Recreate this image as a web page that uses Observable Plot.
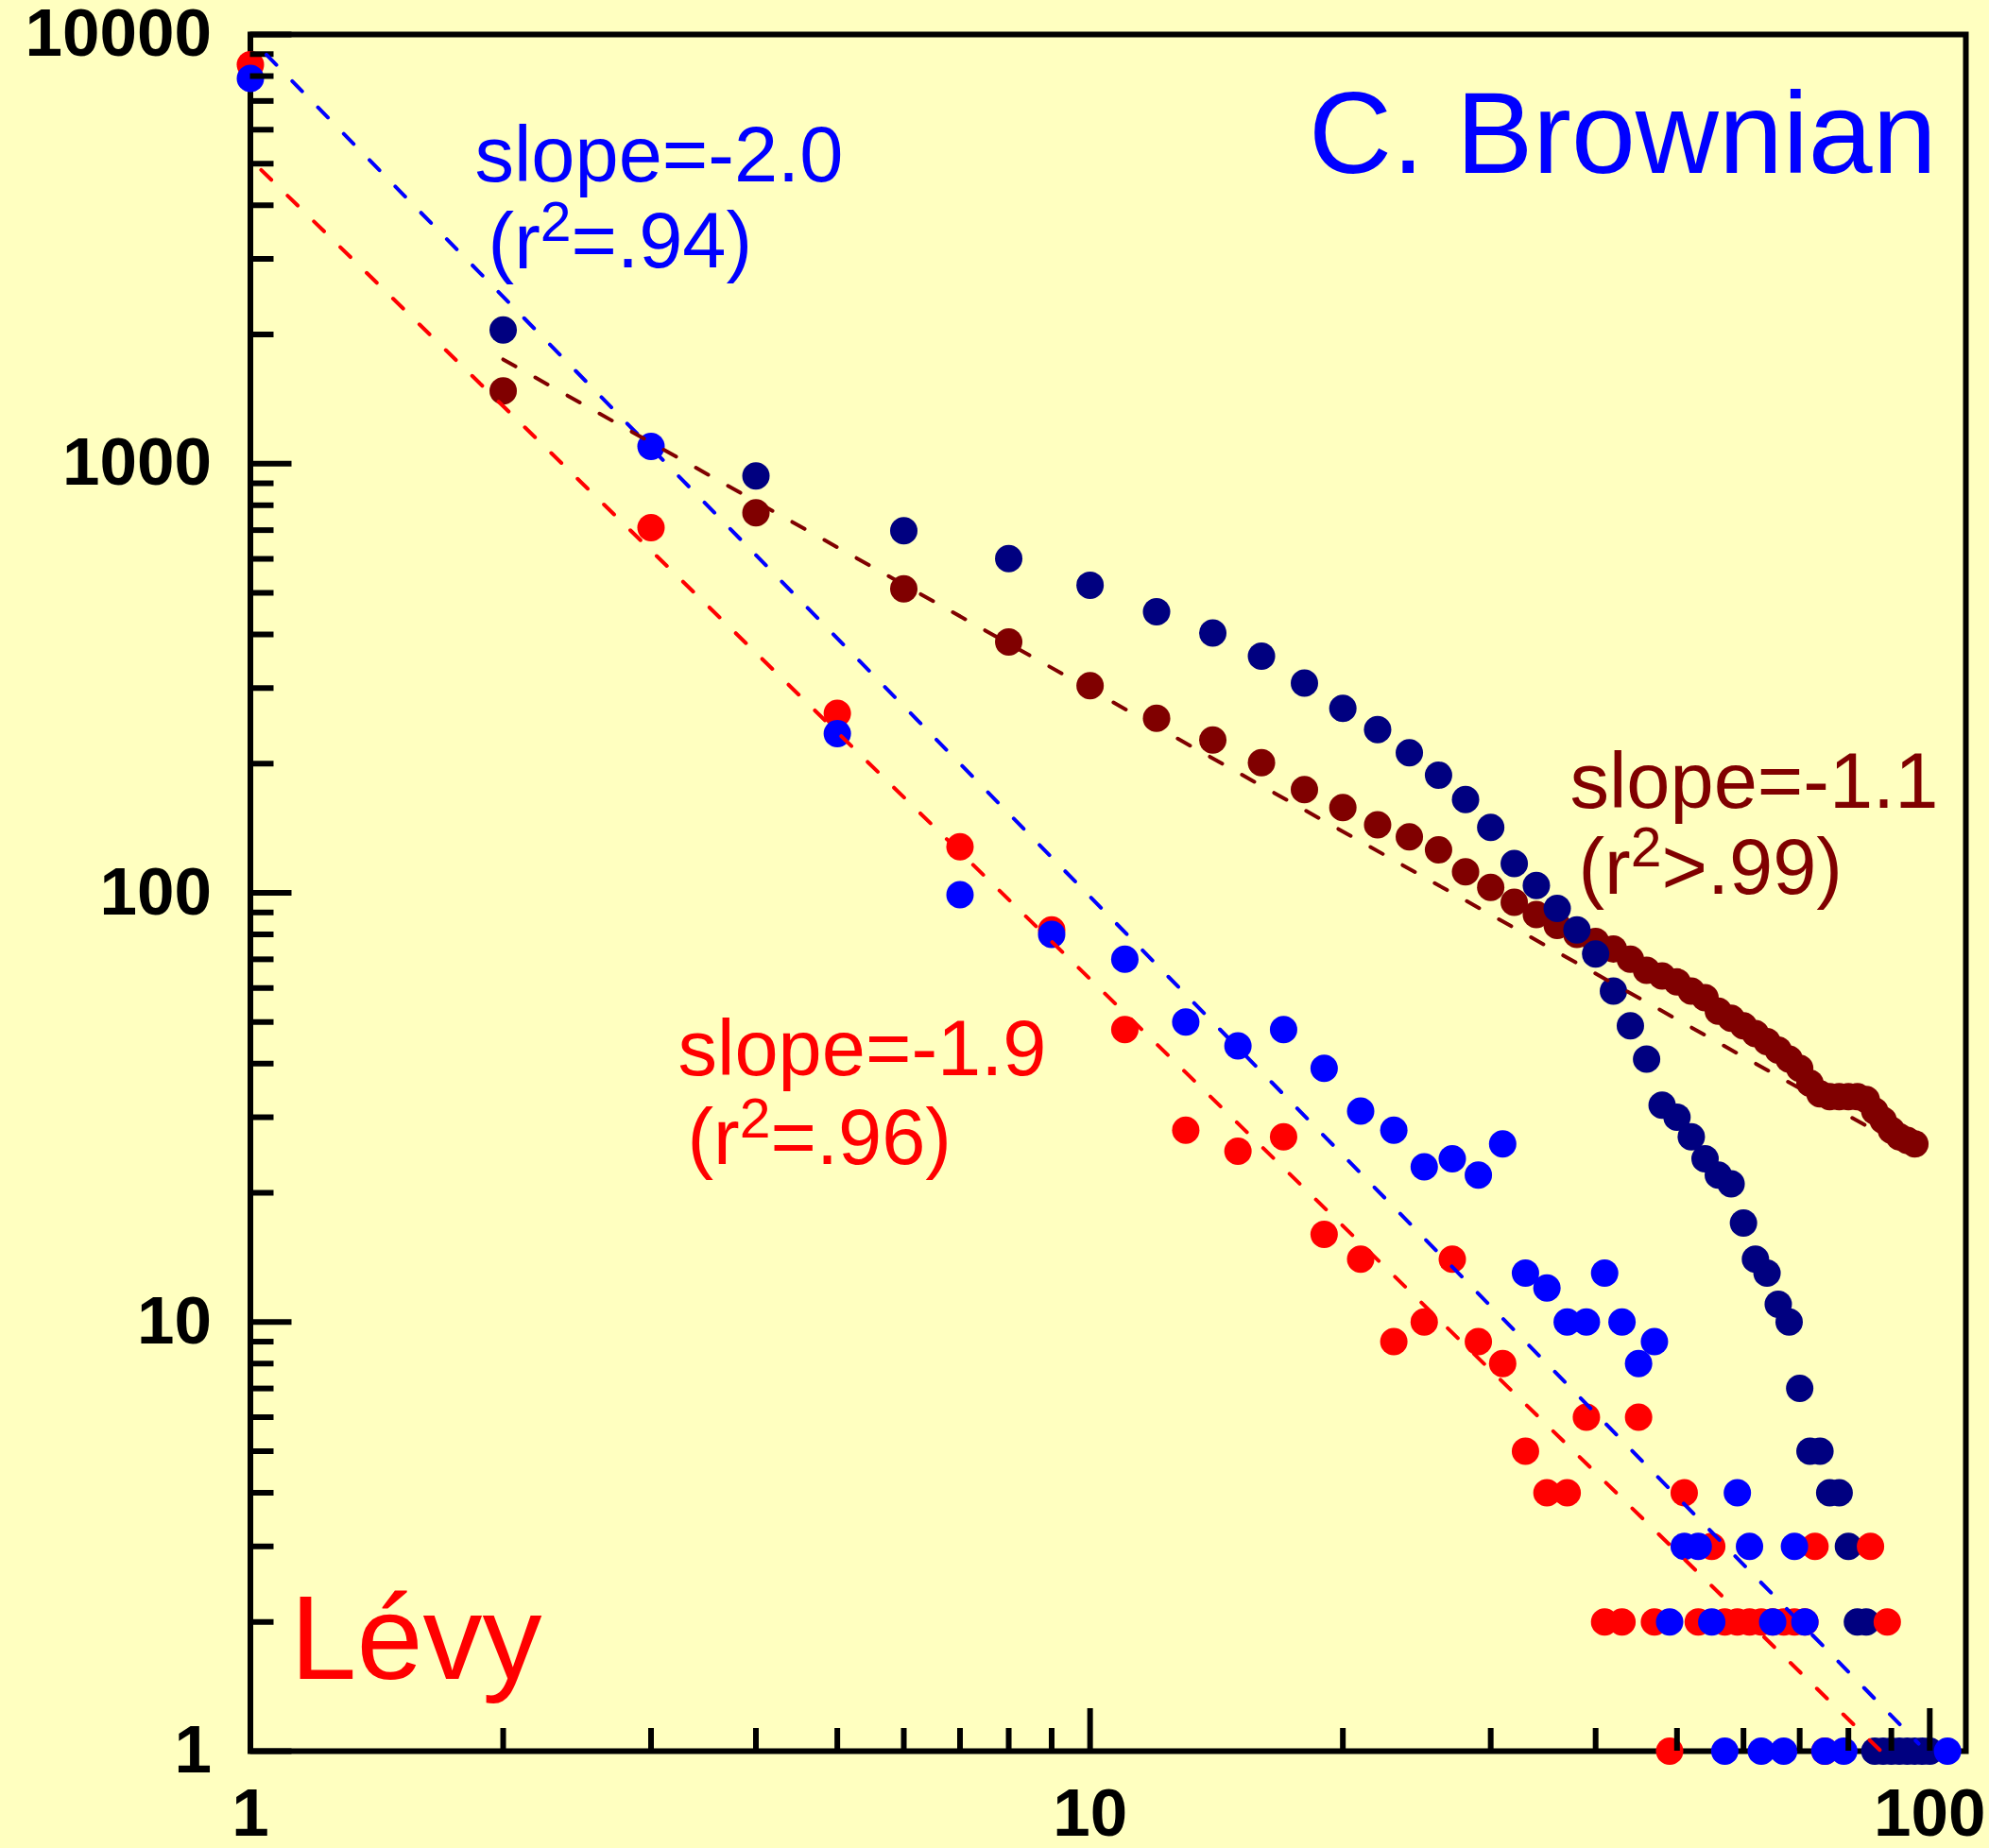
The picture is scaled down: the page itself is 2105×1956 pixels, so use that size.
<!DOCTYPE html>
<html>
<head>
<meta charset="utf-8">
<script src="https://cdn.jsdelivr.net/npm/d3@7"></script>
<script src="https://cdn.jsdelivr.net/npm/@observablehq/plot@0.6"></script>
<style>
  html, body { margin: 0; padding: 0; background: #FFFFC0; }
  svg { display: block; }
</style>
</head>
<body>
<script>
// ---------- data ----------
// Lévy (red)
const levyX = [1,3,5,7,9,11,13,15,17,19,21,23,25,27,29,31,33,35,37,39,41,43,45,47,49,51,53,55,57,59,61,63,65,67,69,71,73,75,85,89];
const levyY = [8500,709,262,128,82,48,28,25,27,16,14,9,10,14,9,8,5,4,4,6,2,2,6,2,1,4,2,3,2,2,2,2,2,2,2,2,3,1,3,2];

// C. Brownian (blue)
const brownX = [1,3,5,7,9,11,13,15,17,19,21,23,25,27,29,31,33,35,37,39,41,43,45,47,49,51,53,55,57,59,61,63,65,67,69,71,75,79,105];
const brownY = [7900,1097,235,99,80,70,50,44,48,39,31,28,23,24,22,26,13,12,10,10,13,10,8,9,2,3,3,2,1,4,3,1,2,1,3,2,1,1,1];

// dark blue series
const navyX = [2,4,6,8,10,12,14,16,18,20,22,24,26,28,30,32,34,36,38,40,42,44,46,48,50,52,54,56,58,60,62,64,66,68,70,72,74,76,78,80,82,84,86,88,90,92,94,96,98,100];
const navyY = [2048,936,698,601,521,452,403,356,308,269,240,212,188,165,142,117,104,92,82,72,59,49,41,32,30,27,24,22,21,17,14,13,11,10,7,5,5,4,4,3,2,2,1,1,1,1,1,1,1,1];

// dark red series
const maroonX = [2,4,6,8,10,12,14,16,18,20,22,24,26,28,30,32,34,36,38,40,42,44,46,48,50,52,54,56,58,60,62,64,66,68,70,72,74,76,78,80,82,84,86,88,90,92,94,96];
const maroonY = [1477,768,511,384,304,255,227,201,174,158,144,135,126,112,103,95,89,84,80,77,74,70,66,64,62,59,57,53,51,49,47,45,43,41,39,36,34,33.5,33.5,33.5,33.5,33,31,29.5,28,27,26.5,26];

// power-law fits: log10(y) = logC + slope*log10(x), drawn over [xFrom, xTo]
const fitNames  = ["brownian", "levy", "maroon"];
const fitSlope  = [-2.0, -1.91, -1.1];
const fitLogC   = [3.991, 3.709, 3.574];
const fitXFrom  = [1.045, 1.03, 2.0];
const fitXTo    = [97, 87.5, 96];

// tick values
const yMajor = [1, 10, 100, 1000, 10000];
const xMajor = [1, 10, 100];
const yMinor = [1, 10, 100, 1000].flatMap(d => [2,3,4,5,6,7,8,9].map(k => k * d));
const xMinor = [1, 10].flatMap(d => [2,3,4,5,6,7,8,9].map(k => k * d));

// ---------- build tables ----------
const zip = (xs, ys) => xs.map((x, i) => ({x, y: ys[i]}));
const levy = zip(levyX, levyY);
const brown = zip(brownX, brownY);
const navy = zip(navyX, navyY);
const maroon = zip(maroonX, maroonY);
const fitLines = fitNames.flatMap((name, i) =>
  [fitXFrom[i], fitXTo[i]].map(x => ({name, x, y: Math.pow(10, fitLogC[i] + fitSlope[i] * Math.log10(x))}))
);

const RED = "#FF0000", BLUE = "#0000FF", NAVY = "#000080", MAROON = "#800000";
const fitColor = {brownian: BLUE, levy: RED, maroon: MAROON};
const FONT = "'Liberation Sans', Arial, Helvetica, sans-serif";
const R = 14.5;

const annotations = [
  {x: 1.85,  y: 4536, text: "slope=-2.0", color: BLUE},
  {x: 1.919, y: 2859, text: "(r²=.94)",   color: BLUE},
  {x: 3.23,  y: 37.5, text: "slope=-1.9", color: RED},
  {x: 3.314, y: 23.3, text: "(r²=.96)",   color: RED},
  {x: 37.27, y: 158.2, text: "slope=-1.1", color: MAROON},
  {x: 38.15, y: 99.7,  text: "(r²>.99)",  color: MAROON}
];

const tickOpts = {strokeWidth: 6, tickFormat: () => "", stroke: "black", label: null};
const labelOpts = {tickSize: 0, tickFormat: d => String(d), fontSize: 71, fontWeight: "bold", fill: "black", label: null};

const chart = Plot.plot({
  width: 2105,
  height: 1956,
  marginLeft: 264.5,
  marginRight: 25,
  marginTop: 36,
  marginBottom: 103,
  style: {background: "#FFFFC0", fontFamily: FONT, color: "black"},
  x: {type: "log", domain: [1, 110.4]},
  y: {type: "log", domain: [1, 10000]},
  marks: [
    Plot.frame({stroke: "black", strokeWidth: 6}),
    Plot.dot(maroon, {x: "x", y: "y", r: R, fill: MAROON}),
    Plot.dot(navy, {x: "x", y: "y", r: R, fill: NAVY}),
    Plot.dot(levy, {x: "x", y: "y", r: R, fill: RED}),
    Plot.dot(brown, {x: "x", y: "y", r: R, fill: BLUE}),
    // inward ticks
    Plot.axisY({...tickOpts, ticks: yMinor, tickSize: -25}),
    Plot.axisY({...tickOpts, ticks: yMajor, tickSize: -44}),
    Plot.axisX({...tickOpts, ticks: xMinor, tickSize: -24}),
    Plot.axisX({...tickOpts, ticks: xMajor, tickSize: -45}),
    // tick labels
    Plot.axisY({...labelOpts, ticks: yMajor, tickPadding: 41}),
    Plot.axisX({...labelOpts, ticks: xMajor, tickPadding: 39}),
    // fitted power laws
    Plot.line(fitLines, {x: "x", y: "y", z: "name", stroke: d => fitColor[d.name],
      strokeWidth: 4, strokeDasharray: "15,24"}),
    // annotations
    Plot.text(annotations, {x: "x", y: "y", text: "text", fill: "color",
      fontSize: 83, textAnchor: "start", lineAnchor: "bottom"}),
    Plot.text([{x: 101.9, y: 4747, text: "C. Brownian"}], {x: "x", y: "y", text: "text",
      fill: BLUE, fontSize: 122, textAnchor: "end", lineAnchor: "bottom"}),
    Plot.text([{x: 1.116, y: 1.47, text: "Lévy"}], {x: "x", y: "y", text: "text",
      fill: RED, fontSize: 126, textAnchor: "start", lineAnchor: "bottom"})
  ]
});

// real superscripts for r²
const NS = "http://www.w3.org/2000/svg";
chart.querySelectorAll("text").forEach(t => {
  const s = t.textContent;
  if (s.includes("²")) {
    const [a, b] = s.split("²");
    t.textContent = "";
    const t1 = document.createElementNS(NS, "tspan"); t1.textContent = a;
    const t2 = document.createElementNS(NS, "tspan"); t2.textContent = "2";
    t2.setAttribute("font-size", "0.71em"); t2.setAttribute("dy", "-0.48em");
    const t3 = document.createElementNS(NS, "tspan"); t3.textContent = b;
    t3.setAttribute("dy", "0.34em");
    t.append(t1, t2, t3);
  }
});

document.body.appendChild(chart);
</script>
</body>
</html>
